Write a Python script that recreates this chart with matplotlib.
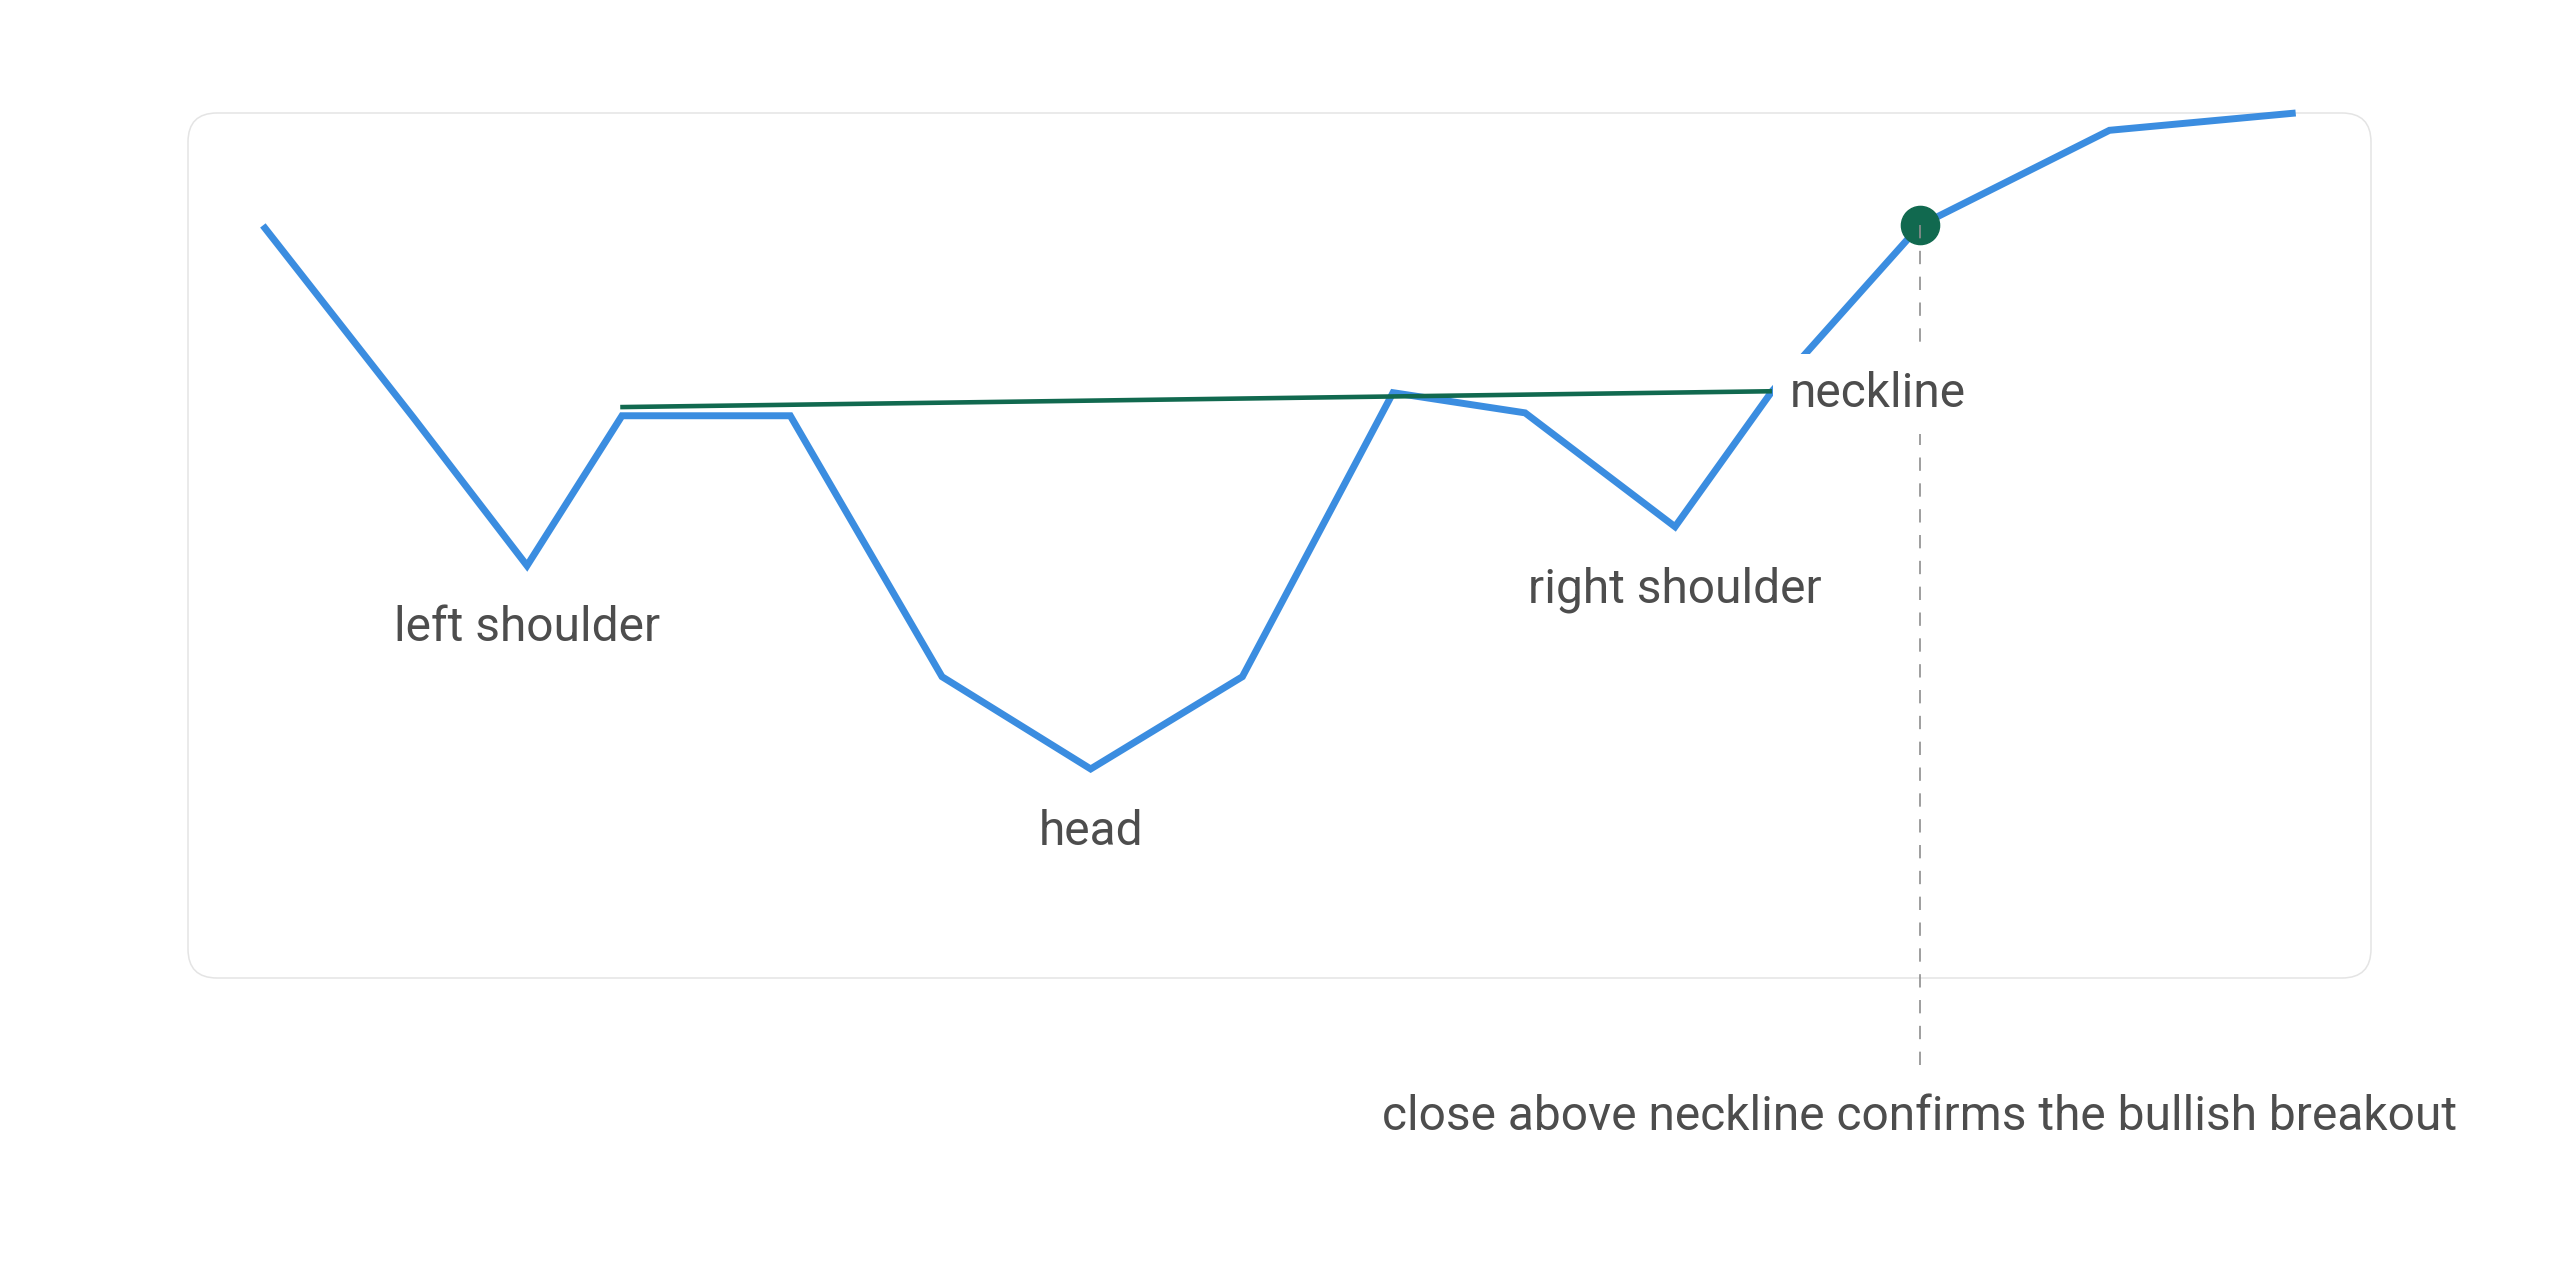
import matplotlib
matplotlib.use('Agg')
import matplotlib.pyplot as plt
from matplotlib.patches import FancyBboxPatch

plt.rcParams['font.family'] = ['Roboto', 'DejaVu Sans']

# price path (x = trading day, y = price)
days = [3.43, 10.31, 15.53, 19.88, 27.59, 34.54, 41.35, 48.30, 55.20, 61.25, 68.12, 72.56, 79.34, 88.02, 96.55]
prices = [112.2, 98.9, 88.6, 99.0, 99.0, 80.9, 74.5, 80.9, 100.6, 99.2, 91.3, 100.7, 112.2, 118.8, 120.0]

# neckline drawn between the two reaction highs
neck_days = [19.80, 72.56]
neck_prices = [99.6, 100.7]

# breakout close
breakout_day = 79.34
breakout_price = 112.2

labels = ['left shoulder', 'head', 'right shoulder']
label_idx = [2, 6, 10]

blue = '#3b8de0'
green = '#11694f'
text_c = '#4d4d4d'


def main():
    fig = plt.figure(figsize=(25.6, 12.8), dpi=100)
    fig.patch.set_facecolor('white')

    # rounded card behind the plot
    card = FancyBboxPatch((1.88, 3.02), 21.83, 8.65,
                          boxstyle='round,pad=0,rounding_size=0.29',
                          transform=fig.dpi_scale_trans,
                          facecolor='white', edgecolor='#e4e4e4', linewidth=1.1, zorder=0)
    fig.add_artist(card)

    ax = fig.add_axes([188 / 2560, 302 / 1280, 2183 / 2560, 865 / 1280])
    ax.set_xlim(0, 100)
    ax.set_ylim(60, 120)
    ax.axis('off')
    ax.patch.set_alpha(0)

    ax.plot(days, prices, color=blue, lw=5.0, solid_joinstyle='miter',
            solid_capstyle='butt', clip_on=False, zorder=3)
    ax.plot(neck_days, neck_prices, color=green, lw=3.3,
            solid_capstyle='butt', clip_on=False, zorder=4)

    ax.plot([breakout_day], [breakout_price], 'o', ms=27.5, color=green,
            mec=green, clip_on=False, zorder=5)

    ymin, ymax = ax.get_ylim()
    ybot = ymin - 0.11 * (ymax - ymin)
    ax.plot([breakout_day, breakout_day], [breakout_price, ybot],
            color='#8e8e8e', lw=1.2, ls=(0, (8, 7.5)), clip_on=False, zorder=6)

    for name, i in zip(labels, label_idx):
        ax.annotate(name, xy=(days[i], prices[i]), xytext=(0, -54.5),
                    textcoords='offset points', ha='center', va='baseline',
                    fontsize=34.5, color=text_c, zorder=7)

    ax.annotate('neckline', xy=(neck_days[1], neck_prices[1]), xytext=(13, -11.5),
                textcoords='offset points', ha='left', va='baseline',
                fontsize=34.5, color=text_c, zorder=8,
                bbox=dict(boxstyle='square,pad=0.36', fc='white', ec='none'))

    ax.annotate('close above neckline confirms the bullish breakout',
                xy=(breakout_day, 0), xycoords=('data', 'axes fraction'),
                xytext=(0, -109.4), textcoords='offset points',
                ha='center', va='baseline', fontsize=34.5, color=text_c,
                annotation_clip=False)

    fig.savefig('out.png', dpi=100, facecolor='white')


if __name__ == '__main__':
    main()
